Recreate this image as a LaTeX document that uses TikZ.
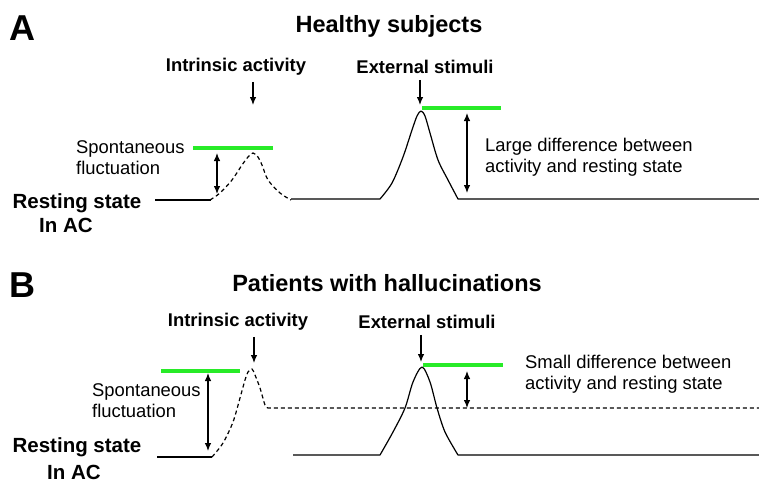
\documentclass[tikz,border=0pt]{standalone}
\usepackage{fontspec}
\setmainfont{Liberation Sans}
\usepackage{tikz}
\usetikzlibrary{arrows.meta,calc}
\definecolor{fluctgreen}{RGB}{40,235,40}

\begin{document}
\begin{tikzpicture}[x=1pt,y=-1pt,
  panel/.style={font=\fontsize{36}{40}\selectfont\bfseries},
  title/.style={font=\fontsize{23.5}{27}\selectfont\bfseries},
  head/.style={inner sep=0pt,font=\fontsize{18.4}{21}\selectfont\bfseries},
  rest/.style={inner sep=0pt,font=\fontsize{20.5}{23}\selectfont\bfseries},
  note/.style={inner sep=0pt,anchor=west,align=left,font=\fontsize{18.4}{21}\selectfont},
  crv/.style={line width=1.2pt,line join=round},
  dotcrv/.style={line width=1.2pt,dash pattern=on 4pt off 3pt},
  level/.style={line width=4pt,fluctgreen},
  tip/.style={line width=1.1pt,-{Latex[length=8pt,width=6.5pt]},shorten <=6pt},
  dbl/.style={line width=1.1pt,{Latex[length=8pt,width=6.5pt]}-{Latex[length=8pt,width=6.5pt]}}]
\useasboundingbox (0,0) rectangle (759,482);

% A: healthy subjects
\node[panel] (labA) at (22,28) {A};
\node[title] (titA) at (389,26) {Healthy subjects};
\node[head] (intA) at (236,67) {Intrinsic activity};
\node[head] (extA) at (425,67) {External stimuli};
\node[note] (fluA) at (76,157.5) {Spontaneous\\fluctuation};
\node[note] (difA) at (485,157.5) {Large difference between\\activity and resting state};
\node[rest] (resA) at (77,203) {Resting state};
\node[rest] (acA) at (66,225) {In AC};

\draw[crv] (155,200) -- (211,200);
\draw[dotcrv] plot[smooth] coordinates {(210,200) (220,193) (232,180) (242,165) (248,157)
  (253,153) (258,157) (262,165) (268,180) (280,193) (291,200)};
\draw[crv] (291,199) -- plot[smooth] coordinates {(380,199) (392,183) (403,157) (412,130) (417,116)
  (421,111) (425,116) (430,133) (438,160) (448,180) (458,199)} -- (759,199);
\draw[level] (193,148) -- (273,148);
\draw[level] (422,108) -- (501,108);

\coordinate (aIA) at (253,105);
\coordinate (aEA) at (420,105);
\draw[tip] (intA.south -| aIA) -- (aIA);
\draw[tip] (extA.south -| aEA) -- (aEA);
\coordinate (sA1) at (217,153);
\coordinate (sA2) at (217,194);
\coordinate (dA1) at (467,113);
\coordinate (dA2) at (467,193);
\draw[dbl] (sA1) -- (sA2);
\draw[dbl] (dA1) -- (dA2);

% B: patients with hallucinations
\node[panel] (labB) at (22,285) {B};
\node[title] (titB) at (387,283) {Patients with hallucinations};
\node[head] (intB) at (238,322) {Intrinsic activity};
\node[head] (extB) at (427,322) {External stimuli};
\node[note] (fluB) at (92,400.5) {Spontaneous\\fluctuation};
\node[note] (difB) at (525,374) {Small difference between\\activity and resting state};
\node[rest] (resB) at (77,447) {Resting state};
\node[rest] (acB) at (74,472) {In AC};

\draw[crv] (157,457) -- (212,457);
\draw[dotcrv] plot[smooth] coordinates {(212,457) (223,443) (233,422) (240,398) (245,380) (248,372)
  (252,369) (255,375) (260,388) (265,405) (268,408)} -- (759,408);
\draw[crv] (293,455) -- plot[smooth] coordinates {(380,455) (393,432) (405,408) (413,382)
  (422,367) (430,382) (437,408) (445,432) (458,455)} -- (759,455);
\draw[level] (161,371) -- (240,371);
\draw[level] (423,365) -- (503,365);

\coordinate (aIB) at (254,363);
\coordinate (aEB) at (421,362);
\draw[tip] (intB.south -| aIB) -- (aIB);
\draw[tip] (extB.south -| aEB) -- (aEB);
\coordinate (sB1) at (208,373);
\coordinate (sB2) at (208,451);
\coordinate (dB1) at (467,371);
\coordinate (dB2) at (467,408);
\draw[dbl] (sB1) -- (sB2);
\draw[dbl] (dB1) -- (dB2);
\end{tikzpicture}
\end{document}
